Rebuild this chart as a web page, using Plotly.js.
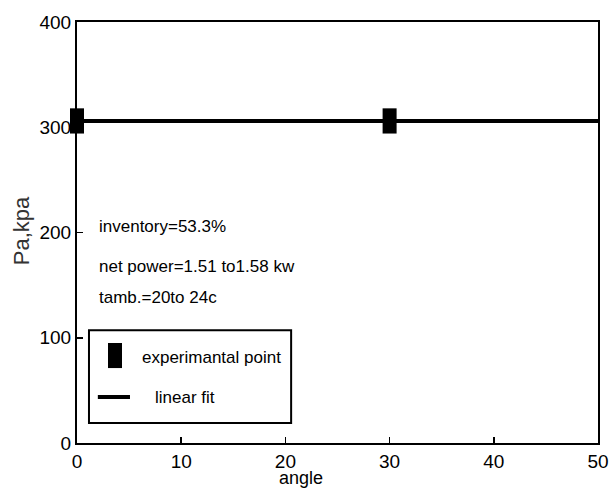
<!DOCTYPE html>
<html>
<head>
<meta charset="utf-8">
<script src="https://cdn.plot.ly/plotly-3.0.1.min.js"></script>
<style>
  html, body { margin: 0; padding: 0; background: #fff; }
  #chart { width: 611px; height: 493px; }
</style>
</head>
<body>
<div id="chart"></div>
<script>
// Measured absolute pressure against tilt angle
const angleDeg = [0, 30];
const pressureKpa = [306, 306];

// Linear fit across the full angle range
const fitAngle = [0, 50];
const fitPressure = [306, 306];

const xTicks = [0, 10, 20, 30, 40, 50];
const yTicks = [0, 100, 200, 300, 400];

const notes = [
  'inventory=53.3%',
  'net power=1.51 to1.58 kw',
  'tamb.=20to 24c'
];
const legendLabels = ['experimantal point', 'linear fit'];

const narrow = '"Liberation Sans Narrow", "Arial Narrow", "Liberation Sans", Arial, sans-serif';

const traces = [
  {
    x: fitAngle, y: fitPressure,
    mode: 'lines',
    line: { color: '#000', width: 4 },
    showlegend: false,
    hoverinfo: 'skip'
  },
  {
    x: angleDeg, y: pressureKpa,
    mode: 'markers',
    marker: {
      symbol: 'line-ns-open',
      size: 18,
      color: '#000',
      line: { color: '#000', width: 14 }
    },
    cliponaxis: false,
    showlegend: false
  }
];

// legend box geometry (paper units)
const lg = { x0: 0.023, x1: 0.411, y0: 0.0475, y1: 0.268 };

const noteFont = { family: narrow, size: 17, color: '#000' };

const layout = {
  width: 611, height: 493,
  margin: { l: 77, r: 13, t: 22, b: 50 },
  paper_bgcolor: '#fff', plot_bgcolor: '#fff',
  showlegend: false,
  font: { family: narrow, color: '#000', size: 18 },
  xaxis: {
    range: [0, 50], tickvals: xTicks, ticktext: xTicks.map(String),
    ticks: 'inside', ticklen: 6, tickwidth: 1.5, tickcolor: '#000',
    showline: true, linecolor: '#000', linewidth: 2, mirror: true,
    showgrid: false, zeroline: false,
    tickfont: { family: narrow, size: 19, color: '#000' },
    fixedrange: true
  },
  yaxis: {
    range: [0, 400], tickvals: yTicks, ticktext: yTicks.map(String),
    ticks: 'inside', ticklen: 6, tickwidth: 1.5, tickcolor: '#000',
    showline: true, linecolor: '#000', linewidth: 2, mirror: true,
    showgrid: false, zeroline: false,
    tickfont: { family: narrow, size: 19, color: '#000' },
    fixedrange: true
  },
  shapes: [
    { type: 'rect', xref: 'paper', yref: 'paper',
      x0: lg.x0, x1: lg.x1, y0: lg.y0, y1: lg.y1,
      line: { color: '#000', width: 2 }, fillcolor: '#fff' },
    { type: 'rect', xref: 'paper', yref: 'paper',
      x0: 0.0595, x1: 0.0864, y0: 0.178, y1: 0.2375,
      line: { width: 0 }, fillcolor: '#000' },
    { type: 'line', xref: 'paper', yref: 'paper',
      x0: 0.040, x1: 0.1017, y0: 0.109, y1: 0.109,
      line: { color: '#000', width: 4 } }
  ],
  annotations: [
    { text: notes[0], xref: 'paper', yref: 'paper', x: 0.038, y: 0.515,
      xanchor: 'left', yanchor: 'middle', showarrow: false, font: noteFont },
    { text: notes[1], xref: 'paper', yref: 'paper', x: 0.038, y: 0.420,
      xanchor: 'left', yanchor: 'middle', showarrow: false, font: noteFont },
    { text: notes[2], xref: 'paper', yref: 'paper', x: 0.038, y: 0.345,
      xanchor: 'left', yanchor: 'middle', showarrow: false, font: noteFont },
    { text: legendLabels[0], xref: 'paper', yref: 'paper', x: 0.121, y: 0.204,
      xanchor: 'left', yanchor: 'middle', showarrow: false, font: noteFont },
    { text: legendLabels[1], xref: 'paper', yref: 'paper', x: 0.146, y: 0.109,
      xanchor: 'left', yanchor: 'middle', showarrow: false, font: noteFont },
    // axis titles
    { text: 'angle', xref: 'paper', yref: 'paper', x: 0.43, y: -0.082,
      xanchor: 'center', yanchor: 'middle', showarrow: false,
      font: { family: narrow, size: 18, color: '#000' } },
    { text: 'Pa,kpa', xref: 'paper', yref: 'paper', x: -0.106, y: 0.505,
      xanchor: 'center', yanchor: 'middle', showarrow: false, textangle: -90,
      font: { family: '"Liberation Sans", Arial, sans-serif', size: 22, color: '#333' } }
  ]
};

Plotly.newPlot('chart', traces, layout, { displayModeBar: false, staticPlot: true });
</script>
</body>
</html>
